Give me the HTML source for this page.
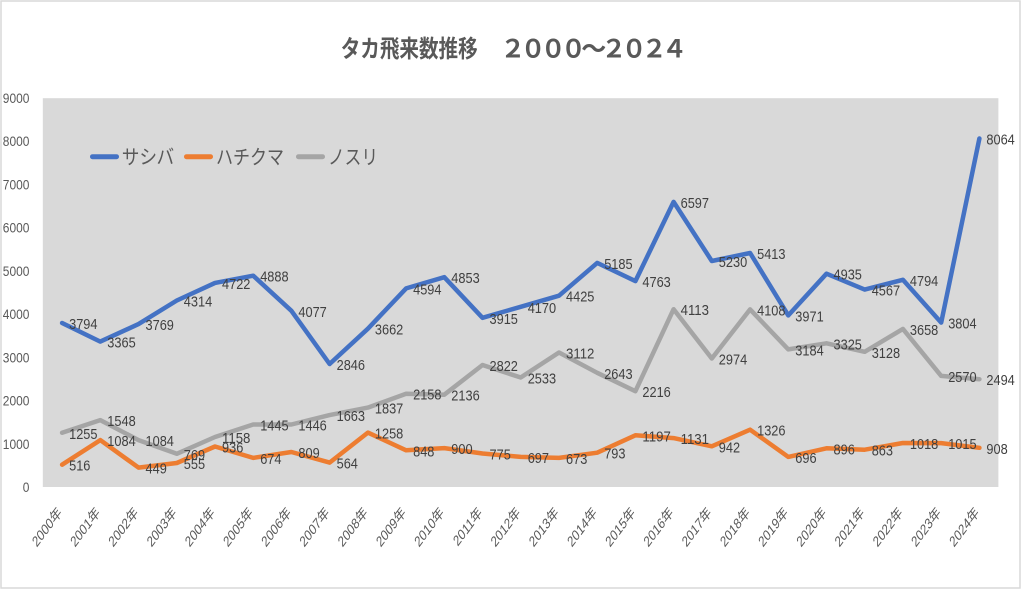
<!DOCTYPE html>
<html><head><meta charset="utf-8">
<style>
html,body{margin:0;padding:0;background:#fff;}
svg{display:block;}
.dl{font-family:"Liberation Sans",sans-serif;font-size:14.5px;fill:#404040;}
.yl{font-family:"Liberation Sans",sans-serif;font-size:14px;fill:#595959;}
.xl{font-family:"Liberation Sans","Noto Sans CJK JP",sans-serif;font-size:15px;fill:#595959;}
.lg{font-family:"Liberation Sans","Noto Sans CJK JP",sans-serif;font-size:20px;fill:#595959;}
.tt{font-family:"Liberation Sans","Noto Sans CJK JP",sans-serif;font-size:24px;font-weight:bold;fill:#595959;}
.td{font-family:"Noto Sans CJK JP",sans-serif;font-size:25px;font-weight:bold;fill:#595959;}
</style></head>
<body>
<svg width="1024" height="594" viewBox="0 0 1024 594" xmlns="http://www.w3.org/2000/svg">
<rect x="0" y="0" width="1024" height="594" fill="#fff"/>
<rect x="1" y="1" width="1019" height="587" fill="#fff" stroke="#d9d9d9" stroke-width="1.5"/>
<rect x="42.8" y="98.2" width="955.6" height="388.8" fill="#d9d9d9"/>

<!-- title -->
<text class="tt" x="340.7" y="57" textLength="137" lengthAdjust="spacingAndGlyphs">タカ飛来数推移</text>
<text class="td" x="500.4 520.6 540.8 561.0 581.2 601.4 621.6 641.8 662.0" y="57.7">２０００～２０２４</text>

<!-- series lines -->
<g fill="none" stroke-width="4.5" stroke-linejoin="round" stroke-linecap="round">
<polyline stroke="#4472C4" points="62.1,323.0 100.3,341.6 138.5,324.1 176.8,300.5 215.0,282.9 253.2,275.7 291.4,310.8 329.6,364.0 367.9,328.7 406.1,288.4 444.3,277.2 482.5,317.8 520.7,306.8 559.0,295.7 597.2,262.9 635.4,281.1 673.6,201.9 711.8,261.0 750.1,253.0 788.3,315.4 826.5,273.7 864.7,289.6 902.9,279.8 941.2,322.6 979.4,138.5"/>
<polyline stroke="#ED7D31" points="62.1,464.7 100.3,440.1 138.5,467.6 176.8,463.0 215.0,446.5 253.2,457.9 291.4,452.0 329.6,462.6 367.9,432.6 406.1,450.3 444.3,448.1 482.5,453.5 520.7,456.9 559.0,457.9 597.2,452.7 635.4,435.3 673.6,438.1 711.8,446.3 750.1,429.7 788.3,456.9 826.5,448.3 864.7,449.7 902.9,443.0 941.2,443.1 979.4,447.8"/>
<polyline stroke="#A5A5A5" points="62.1,432.8 100.3,420.1 138.5,440.1 176.8,453.8 215.0,437.0 253.2,424.5 291.4,424.5 329.6,415.1 367.9,407.6 406.1,393.7 444.3,394.7 482.5,365.0 520.7,377.5 559.0,352.5 597.2,372.8 635.4,391.2 673.6,309.2 711.8,358.5 750.1,309.4 788.3,349.4 826.5,343.3 864.7,351.8 902.9,328.9 941.2,375.9 979.4,379.2"/>
</g>

<!-- legend -->
<g stroke-width="5" stroke-linecap="round">
<line x1="92.5" y1="156.7" x2="116.5" y2="156.7" stroke="#4472C4"/>
<line x1="186.5" y1="156.7" x2="210.5" y2="156.7" stroke="#ED7D31"/>
<line x1="298.5" y1="156.7" x2="322.5" y2="156.7" stroke="#A5A5A5"/>
</g>
<text class="lg" x="121.7" y="164" textLength="52.5" lengthAdjust="spacingAndGlyphs">サシバ</text>
<text class="lg" x="216" y="164" textLength="68" lengthAdjust="spacingAndGlyphs">ハチクマ</text>
<text class="lg" x="328" y="164" textLength="50" lengthAdjust="spacingAndGlyphs">ノスリ</text>

<!-- data labels: blue -->
<g class="dl">
<text x="69.1" y="329.0" textLength="28.4" lengthAdjust="spacingAndGlyphs">3794</text>
<text x="107.3" y="347.6" textLength="28.4" lengthAdjust="spacingAndGlyphs">3365</text>
<text x="145.5" y="330.1" textLength="28.4" lengthAdjust="spacingAndGlyphs">3769</text>
<text x="183.8" y="306.5" textLength="28.4" lengthAdjust="spacingAndGlyphs">4314</text>
<text x="222.0" y="288.9" textLength="28.4" lengthAdjust="spacingAndGlyphs">4722</text>
<text x="260.2" y="281.7" textLength="28.4" lengthAdjust="spacingAndGlyphs">4888</text>
<text x="298.4" y="316.8" textLength="28.4" lengthAdjust="spacingAndGlyphs">4077</text>
<text x="336.6" y="370.0" textLength="28.4" lengthAdjust="spacingAndGlyphs">2846</text>
<text x="374.9" y="334.7" textLength="28.4" lengthAdjust="spacingAndGlyphs">3662</text>
<text x="413.1" y="294.4" textLength="28.4" lengthAdjust="spacingAndGlyphs">4594</text>
<text x="451.3" y="283.2" textLength="28.4" lengthAdjust="spacingAndGlyphs">4853</text>
<text x="489.5" y="323.8" textLength="28.4" lengthAdjust="spacingAndGlyphs">3915</text>
<text x="527.7" y="312.8" textLength="28.4" lengthAdjust="spacingAndGlyphs">4170</text>
<text x="566.0" y="301.7" textLength="28.4" lengthAdjust="spacingAndGlyphs">4425</text>
<text x="604.2" y="268.9" textLength="28.4" lengthAdjust="spacingAndGlyphs">5185</text>
<text x="642.4" y="287.1" textLength="28.4" lengthAdjust="spacingAndGlyphs">4763</text>
<text x="680.6" y="207.9" textLength="28.4" lengthAdjust="spacingAndGlyphs">6597</text>
<text x="718.8" y="267.0" textLength="28.4" lengthAdjust="spacingAndGlyphs">5230</text>
<text x="757.1" y="259.0" textLength="28.4" lengthAdjust="spacingAndGlyphs">5413</text>
<text x="795.3" y="321.4" textLength="28.4" lengthAdjust="spacingAndGlyphs">3971</text>
<text x="833.5" y="279.7" textLength="28.4" lengthAdjust="spacingAndGlyphs">4935</text>
<text x="871.7" y="295.6" textLength="28.4" lengthAdjust="spacingAndGlyphs">4567</text>
<text x="909.9" y="285.8" textLength="28.4" lengthAdjust="spacingAndGlyphs">4794</text>
<text x="948.2" y="328.6" textLength="28.4" lengthAdjust="spacingAndGlyphs">3804</text>
<text x="986.4" y="144.5" textLength="28.4" lengthAdjust="spacingAndGlyphs">8064</text>
</g>

<!-- data labels: orange -->
<g class="dl">
<text x="69.1" y="470.7" textLength="21.3" lengthAdjust="spacingAndGlyphs">516</text>
<text x="107.3" y="446.1" textLength="28.4" lengthAdjust="spacingAndGlyphs">1084</text>
<text x="145.5" y="473.6" textLength="21.3" lengthAdjust="spacingAndGlyphs">449</text>
<text x="183.8" y="469.0" textLength="21.3" lengthAdjust="spacingAndGlyphs">555</text>
<text x="222.0" y="452.5" textLength="21.3" lengthAdjust="spacingAndGlyphs">936</text>
<text x="260.2" y="463.9" textLength="21.3" lengthAdjust="spacingAndGlyphs">674</text>
<text x="298.4" y="458.0" textLength="21.3" lengthAdjust="spacingAndGlyphs">809</text>
<text x="336.6" y="468.6" textLength="21.3" lengthAdjust="spacingAndGlyphs">564</text>
<text x="374.9" y="438.6" textLength="28.4" lengthAdjust="spacingAndGlyphs">1258</text>
<text x="413.1" y="456.3" textLength="21.3" lengthAdjust="spacingAndGlyphs">848</text>
<text x="451.3" y="454.1" textLength="21.3" lengthAdjust="spacingAndGlyphs">900</text>
<text x="489.5" y="459.5" textLength="21.3" lengthAdjust="spacingAndGlyphs">775</text>
<text x="527.7" y="462.9" textLength="21.3" lengthAdjust="spacingAndGlyphs">697</text>
<text x="566.0" y="463.9" textLength="21.3" lengthAdjust="spacingAndGlyphs">673</text>
<text x="604.2" y="458.7" textLength="21.3" lengthAdjust="spacingAndGlyphs">793</text>
<text x="642.4" y="441.3" textLength="28.4" lengthAdjust="spacingAndGlyphs">1197</text>
<text x="680.6" y="444.1" textLength="28.4" lengthAdjust="spacingAndGlyphs">1131</text>
<text x="718.8" y="452.3" textLength="21.3" lengthAdjust="spacingAndGlyphs">942</text>
<text x="757.1" y="435.7" textLength="28.4" lengthAdjust="spacingAndGlyphs">1326</text>
<text x="795.3" y="462.9" textLength="21.3" lengthAdjust="spacingAndGlyphs">696</text>
<text x="833.5" y="454.3" textLength="21.3" lengthAdjust="spacingAndGlyphs">896</text>
<text x="871.7" y="455.7" textLength="21.3" lengthAdjust="spacingAndGlyphs">863</text>
<text x="909.9" y="449.0" textLength="28.4" lengthAdjust="spacingAndGlyphs">1018</text>
<text x="948.2" y="449.1" textLength="28.4" lengthAdjust="spacingAndGlyphs">1015</text>
<text x="986.4" y="453.8" textLength="21.3" lengthAdjust="spacingAndGlyphs">908</text>
</g>

<!-- data labels: gray -->
<g class="dl">
<text x="69.1" y="438.8" textLength="28.4" lengthAdjust="spacingAndGlyphs">1255</text>
<text x="107.3" y="426.1" textLength="28.4" lengthAdjust="spacingAndGlyphs">1548</text>
<text x="145.5" y="446.1" textLength="28.4" lengthAdjust="spacingAndGlyphs">1084</text>
<text x="183.8" y="459.8" textLength="21.3" lengthAdjust="spacingAndGlyphs">769</text>
<text x="222.0" y="443.0" textLength="28.4" lengthAdjust="spacingAndGlyphs">1158</text>
<text x="260.2" y="430.5" textLength="28.4" lengthAdjust="spacingAndGlyphs">1445</text>
<text x="298.4" y="430.5" textLength="28.4" lengthAdjust="spacingAndGlyphs">1446</text>
<text x="336.6" y="421.1" textLength="28.4" lengthAdjust="spacingAndGlyphs">1663</text>
<text x="374.9" y="413.6" textLength="28.4" lengthAdjust="spacingAndGlyphs">1837</text>
<text x="413.1" y="399.7" textLength="28.4" lengthAdjust="spacingAndGlyphs">2158</text>
<text x="451.3" y="400.7" textLength="28.4" lengthAdjust="spacingAndGlyphs">2136</text>
<text x="489.5" y="371.0" textLength="28.4" lengthAdjust="spacingAndGlyphs">2822</text>
<text x="527.7" y="383.5" textLength="28.4" lengthAdjust="spacingAndGlyphs">2533</text>
<text x="566.0" y="358.5" textLength="28.4" lengthAdjust="spacingAndGlyphs">3112</text>
<text x="604.2" y="378.8" textLength="28.4" lengthAdjust="spacingAndGlyphs">2643</text>
<text x="642.4" y="397.2" textLength="28.4" lengthAdjust="spacingAndGlyphs">2216</text>
<text x="680.6" y="315.2" textLength="28.4" lengthAdjust="spacingAndGlyphs">4113</text>
<text x="718.8" y="364.5" textLength="28.4" lengthAdjust="spacingAndGlyphs">2974</text>
<text x="757.1" y="315.4" textLength="28.4" lengthAdjust="spacingAndGlyphs">4108</text>
<text x="795.3" y="355.4" textLength="28.4" lengthAdjust="spacingAndGlyphs">3184</text>
<text x="833.5" y="349.3" textLength="28.4" lengthAdjust="spacingAndGlyphs">3325</text>
<text x="871.7" y="357.8" textLength="28.4" lengthAdjust="spacingAndGlyphs">3128</text>
<text x="909.9" y="334.9" textLength="28.4" lengthAdjust="spacingAndGlyphs">3658</text>
<text x="948.2" y="381.9" textLength="28.4" lengthAdjust="spacingAndGlyphs">2570</text>
<text x="986.4" y="385.2" textLength="28.4" lengthAdjust="spacingAndGlyphs">2494</text>
</g>

<!-- y axis labels -->
<g class="yl">
<text x="2.8" y="103" textLength="26.6" lengthAdjust="spacingAndGlyphs">9000</text>
<text x="2.8" y="146.2" textLength="26.6" lengthAdjust="spacingAndGlyphs">8000</text>
<text x="2.8" y="189.4" textLength="26.6" lengthAdjust="spacingAndGlyphs">7000</text>
<text x="2.8" y="232.7" textLength="26.6" lengthAdjust="spacingAndGlyphs">6000</text>
<text x="2.8" y="275.9" textLength="26.6" lengthAdjust="spacingAndGlyphs">5000</text>
<text x="2.8" y="319.1" textLength="26.6" lengthAdjust="spacingAndGlyphs">4000</text>
<text x="2.8" y="362.3" textLength="26.6" lengthAdjust="spacingAndGlyphs">3000</text>
<text x="2.8" y="405.6" textLength="26.6" lengthAdjust="spacingAndGlyphs">2000</text>
<text x="2.8" y="448.8" textLength="26.6" lengthAdjust="spacingAndGlyphs">1000</text>
<text x="22.8" y="492" textLength="6.65" lengthAdjust="spacingAndGlyphs">0</text>
</g>

<!-- x axis labels -->
<g class="xl" text-anchor="end">
<text transform="translate(62.4,513.5) scale(0.75,1) rotate(-45)">2000年</text>
<text transform="translate(100.6,513.5) scale(0.75,1) rotate(-45)">2001年</text>
<text transform="translate(138.8,513.5) scale(0.75,1) rotate(-45)">2002年</text>
<text transform="translate(177.1,513.5) scale(0.75,1) rotate(-45)">2003年</text>
<text transform="translate(215.3,513.5) scale(0.75,1) rotate(-45)">2004年</text>
<text transform="translate(253.5,513.5) scale(0.75,1) rotate(-45)">2005年</text>
<text transform="translate(291.7,513.5) scale(0.75,1) rotate(-45)">2006年</text>
<text transform="translate(329.9,513.5) scale(0.75,1) rotate(-45)">2007年</text>
<text transform="translate(368.2,513.5) scale(0.75,1) rotate(-45)">2008年</text>
<text transform="translate(406.4,513.5) scale(0.75,1) rotate(-45)">2009年</text>
<text transform="translate(444.6,513.5) scale(0.75,1) rotate(-45)">2010年</text>
<text transform="translate(482.8,513.5) scale(0.75,1) rotate(-45)">2011年</text>
<text transform="translate(521.0,513.5) scale(0.75,1) rotate(-45)">2012年</text>
<text transform="translate(559.3,513.5) scale(0.75,1) rotate(-45)">2013年</text>
<text transform="translate(597.5,513.5) scale(0.75,1) rotate(-45)">2014年</text>
<text transform="translate(635.7,513.5) scale(0.75,1) rotate(-45)">2015年</text>
<text transform="translate(673.9,513.5) scale(0.75,1) rotate(-45)">2016年</text>
<text transform="translate(712.1,513.5) scale(0.75,1) rotate(-45)">2017年</text>
<text transform="translate(750.4,513.5) scale(0.75,1) rotate(-45)">2018年</text>
<text transform="translate(788.6,513.5) scale(0.75,1) rotate(-45)">2019年</text>
<text transform="translate(826.8,513.5) scale(0.75,1) rotate(-45)">2020年</text>
<text transform="translate(865.0,513.5) scale(0.75,1) rotate(-45)">2021年</text>
<text transform="translate(903.2,513.5) scale(0.75,1) rotate(-45)">2022年</text>
<text transform="translate(941.5,513.5) scale(0.75,1) rotate(-45)">2023年</text>
<text transform="translate(979.7,513.5) scale(0.75,1) rotate(-45)">2024年</text>
</g>
</svg>
</body></html>
